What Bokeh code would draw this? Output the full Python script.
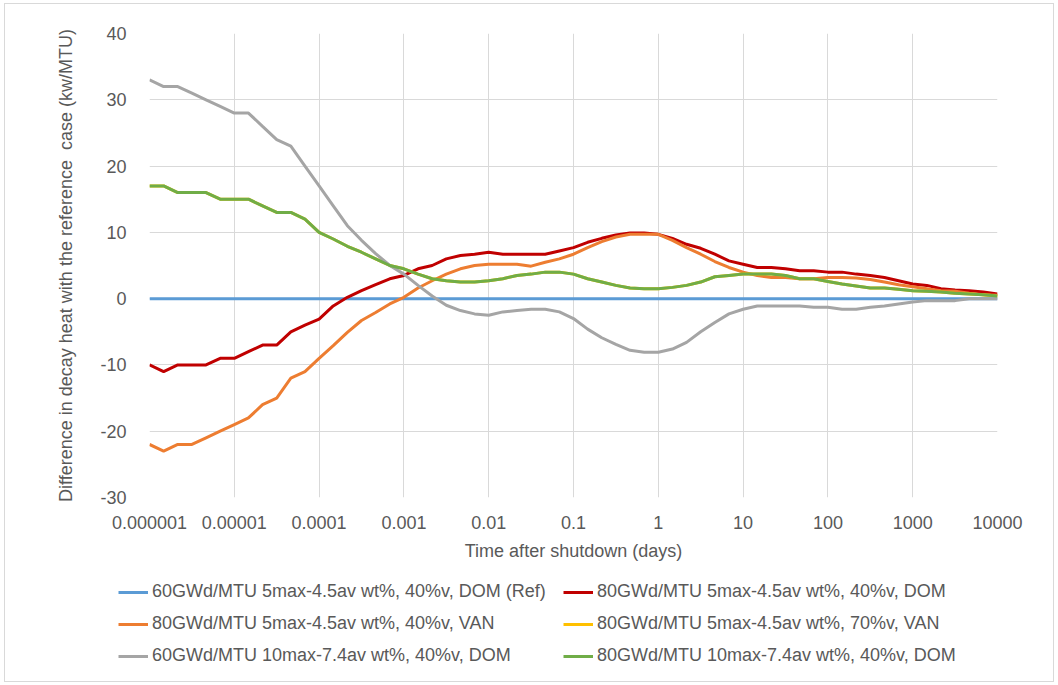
from bokeh.plotting import figure
from bokeh.layouts import column
from bokeh.models import (Range1d, FixedTicker, CustomJSTickFormatter, Legend, LegendItem,
                          ColumnDataSource)
from bokeh.embed import file_html
from bokeh.resources import INLINE

# Time grid (days): six log-spaced samples per decade from 1e-6 to 1e4
steps = [1.0, 1.468, 2.154, 3.162, 4.642, 6.813]
time_days = [m * 10.0 ** e for e in range(-6, 4) for m in steps] + [1e4]

# Difference in decay heat vs the reference case (kW/MTU)
ref_60_5max_40_dom = [0.0] * 61

d80_5max_40_dom = [
    -10, -11, -10, -10, -10, -9, -9, -8, -7, -7, -5, -4, -3.1, -1.1, 0.2, 1.2,
    2.1, 3.0, 3.5, 4.5, 5.0, 6.0, 6.5, 6.7, 7.0, 6.7, 6.7, 6.7, 6.7, 7.2, 7.7,
    8.5, 9.1, 9.6, 9.9, 9.9, 9.7, 9.1, 8.2, 7.6, 6.7, 5.7, 5.2, 4.7, 4.7, 4.5,
    4.2, 4.2, 4.0, 4.0, 3.7, 3.5, 3.2, 2.7, 2.2, 2.0, 1.5, 1.3, 1.2, 1.0, 0.7,
]

d80_5max_40_van = [
    -22, -23, -22, -22, -21, -20, -19, -18, -16, -15, -12, -11, -9, -7.1, -5.1,
    -3.3, -2.1, -0.8, 0.2, 1.6, 2.7, 3.7, 4.5, 5.0, 5.2, 5.2, 5.2, 4.9, 5.5,
    6.0, 6.7, 7.7, 8.6, 9.3, 9.7, 9.7, 9.7, 8.8, 7.7, 6.7, 5.6, 4.7, 4.0, 3.5,
    3.2, 3.2, 3.0, 3.0, 3.2, 3.2, 3.1, 2.9, 2.5, 2.1, 1.8, 1.5, 1.2, 1.1, 0.8,
    0.6, 0.5,
]

d80_5max_70_van = [
    17, 17, 16, 16, 16, 15, 15, 15, 14, 13, 13, 12, 10, 9, 7.9, 7.0, 6.0, 5.0,
    4.5, 3.7, 3.0, 2.7, 2.5, 2.5, 2.7, 3.0, 3.5, 3.7, 4.0, 4.0, 3.7, 3.0, 2.5,
    2.0, 1.6, 1.5, 1.5, 1.7, 2.0, 2.5, 3.3, 3.5, 3.7, 3.7, 3.7, 3.5, 3.0, 3.0,
    2.6, 2.2, 1.9, 1.6, 1.6, 1.4, 1.2, 1.1, 1.0, 0.8, 0.7, 0.6, 0.4,
]

d60_10max_40_dom = [
    33, 32, 32, 31, 30, 29, 28, 28, 26, 24, 23, 20, 17, 14, 11, 8.8, 6.8, 5.0,
    3.7, 2.0, 0.4, -1.0, -1.8, -2.3, -2.5, -2.0, -1.8, -1.6, -1.6, -2.0, -3.0,
    -4.6, -5.9, -6.9, -7.8, -8.1, -8.1, -7.6, -6.6, -5.0, -3.6, -2.3, -1.6,
    -1.1, -1.1, -1.1, -1.1, -1.3, -1.3, -1.6, -1.6, -1.3, -1.1, -0.8, -0.5,
    -0.3, -0.3, -0.3, 0.0, 0.0, 0.0,
]

d80_10max_40_dom = [
    17, 17, 16, 16, 16, 15, 15, 15, 14, 13, 13, 12, 10, 9, 7.9, 7.0, 6.0, 5.0,
    4.5, 3.7, 3.0, 2.7, 2.5, 2.5, 2.7, 3.0, 3.5, 3.7, 4.0, 4.0, 3.7, 3.0, 2.5,
    2.0, 1.6, 1.5, 1.5, 1.7, 2.0, 2.5, 3.3, 3.5, 3.7, 3.7, 3.7, 3.5, 3.0, 3.0,
    2.6, 2.2, 1.9, 1.6, 1.6, 1.4, 1.2, 1.1, 1.0, 0.8, 0.7, 0.6, 0.4,
]

series_names = [
    "60GWd/MTU 5max-4.5av wt%, 40%v, DOM (Ref)",
    "80GWd/MTU 5max-4.5av wt%, 40%v, DOM",
    "80GWd/MTU 5max-4.5av wt%, 40%v, VAN",
    "80GWd/MTU 5max-4.5av wt%, 70%v, VAN",
    "60GWd/MTU 10max-7.4av wt%, 40%v, DOM",
    "80GWd/MTU 10max-7.4av wt%, 40%v, DOM",
]
series_values = [ref_60_5max_40_dom, d80_5max_40_dom, d80_5max_40_van,
                 d80_5max_70_van, d60_10max_40_dom, d80_10max_40_dom]
series_colors = ["#5B9BD5", "#C00000", "#ED7D31", "#FFC000", "#A5A5A5", "#70AD47"]

x_ticks = [1e-6, 1e-5, 1e-4, 1e-3, 1e-2, 1e-1, 1, 10, 100, 1000, 10000]
x_tick_labels = ["0.000001", "0.00001", "0.0001", "0.001", "0.01", "0.1",
                 "1", "10", "100", "1000", "10000"]
y_ticks = [-30, -20, -10, 0, 10, 20, 30, 40]

FONT = "Liberation Sans"
TEXT = "#595959"
GRID = "#D9D9D9"

p = figure(
    width=1048, height=566,
    x_axis_type="log",
    x_range=Range1d(1e-6, 1e4), y_range=Range1d(-30, 40),
    output_backend="svg", toolbar_location=None,
    min_border_left=144, min_border_right=56,
    min_border_top=29, min_border_bottom=73,
)
p.frame_align = False
p.outline_line_color = None
p.background_fill_color = "white"
p.border_fill_color = "white"

# Axes
p.xaxis.ticker = FixedTicker(ticks=x_ticks, minor_ticks=[])
p.xaxis.formatter = CustomJSTickFormatter(
    args=dict(labels=x_tick_labels),
    code="return labels[Math.round(Math.log10(tick)) + 6];",
)
p.yaxis.ticker = FixedTicker(ticks=y_ticks, minor_ticks=[])
p.yaxis.formatter = CustomJSTickFormatter(code="return String(Math.round(tick));")
for ax in (p.xaxis[0], p.yaxis[0]):
    ax.axis_line_color = None
    ax.major_tick_line_color = None
    ax.minor_tick_line_color = None
    ax.major_label_text_font = FONT
    ax.major_label_text_font_size = "18px"
    ax.major_label_text_color = TEXT
    ax.axis_label_text_font = FONT
    ax.axis_label_text_font_size = "18px"
    ax.axis_label_text_font_style = "normal"
    ax.axis_label_text_color = TEXT

p.xaxis.axis_label = "Time after shutdown (days)"
p.xaxis.major_label_standoff = 12
p.xaxis.axis_label_standoff = 9
p.yaxis.axis_label = "Difference in decay heat with the reference\u00a0 case (kw/MTU)"
p.yaxis.major_label_standoff = 17
p.yaxis.axis_label_standoff = 21

p.xgrid.ticker = FixedTicker(ticks=x_ticks, minor_ticks=[])
p.ygrid.ticker = FixedTicker(ticks=y_ticks, minor_ticks=[])
for g in (p.xgrid[0], p.ygrid[0]):
    g.grid_line_color = GRID
    g.grid_line_width = 1

# Series lines
for vals, color in zip(series_values, series_colors):
    src = ColumnDataSource(dict(t=time_days, d=vals))
    p.line("t", "d", source=src, line_color=color, line_width=3)

# Legend strip under the chart: two columns of entries
leg = figure(
    width=1048, height=111,
    x_range=Range1d(0, 1), y_range=Range1d(0, 1),
    x_axis_location=None, y_axis_location=None,
    output_backend="svg", toolbar_location=None,
    min_border=0,
)
leg.frame_align = False
leg.grid.visible = False
leg.outline_line_color = None
leg.background_fill_color = "white"
leg.border_fill_color = "white"

# Key renderers for the legend swatches; their data sits outside the visible range
keys = [leg.line(x=[-1, -2], y=[-1, -2], line_color=c, line_width=3) for c in series_colors]


def add_column(indices, x):
    lg = Legend(
        items=[LegendItem(label=series_names[i], renderers=[keys[i]]) for i in indices],
        location=(x, 15),
        orientation="vertical",
        label_text_font=FONT, label_text_font_size="18px", label_text_color=TEXT,
        glyph_width=30, glyph_height=20, label_height=20, label_standoff=4,
        spacing=11, padding=0, margin=0,
        border_line_color=None, background_fill_alpha=0,
    )
    leg.add_layout(lg, "center")


add_column([0, 2, 4], 113)
add_column([1, 3, 5], 558)

layout = column(
    p, leg, spacing=0,
    styles={"border": "1px solid #D9D9D9", "margin-left": "4px", "margin-top": "3px"},
)

open("out.html", "w").write(file_html(layout, INLINE))
